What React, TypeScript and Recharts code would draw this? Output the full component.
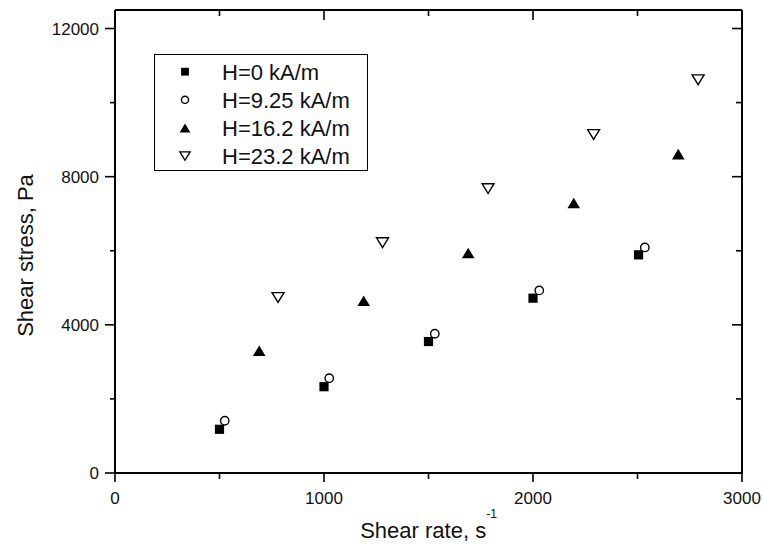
import React from "react";
import { Legend, Scatter, ScatterChart, XAxis, YAxis } from "recharts";

const FONT = "'Liberation Sans', Arial, Helvetica, sans-serif";

// shear rate (s^-1) / shear stress (Pa) per field strength
const rateH0 = [500, 1000, 1500, 2000, 2505];
const stressH0 = [1180, 2330, 3550, 4720, 5890];
const rateH925 = [525, 1025, 1530, 2030, 2535];
const stressH925 = [1410, 2560, 3760, 4930, 6090];
const rateH162 = [690, 1190, 1690, 2195, 2695];
const stressH162 = [3300, 4650, 5940, 7290, 8610];
const rateH232 = [780, 1280, 1785, 2290, 2790];
const stressH232 = [4740, 6220, 7680, 9140, 10620];

const seriesNames = ["H=0 kA/m", "H=9.25 kA/m", "H=16.2 kA/m", "H=23.2 kA/m"];
const xTicks = [0, 500, 1000, 1500, 2000, 2500, 3000];
const yTicks = [0, 2000, 4000, 6000, 8000, 10000, 12000];

type Kind = "square" | "circle" | "triangle" | "down";

const toPoints = (xs: number[], ys: number[]) => xs.map((x, i) => ({ x, y: ys[i] }));

const series: { name: string; kind: Kind; data: { x: number; y: number }[] }[] = [
  { name: seriesNames[0], kind: "square", data: toPoints(rateH0, stressH0) },
  { name: seriesNames[1], kind: "circle", data: toPoints(rateH925, stressH925) },
  { name: seriesNames[2], kind: "triangle", data: toPoints(rateH162, stressH162) },
  { name: seriesNames[3], kind: "down", data: toPoints(rateH232, stressH232) },
];

function Marker({ kind, cx, cy, s = 1 }: { kind: Kind; cx: number; cy: number; s?: number }) {
  if (kind === "square") {
    return <rect x={cx - 4.6 * s} y={cy - 4.6 * s} width={9.2 * s} height={9.2 * s} fill="#000" />;
  }
  if (kind === "circle") {
    return <circle cx={cx} cy={cy} r={4.2 * s} fill="#fff" stroke="#000" strokeWidth={1.4} />;
  }
  if (kind === "triangle") {
    const pts = `${cx - 6.3 * s},${cy + 5.3 * s} ${cx + 6.3 * s},${cy + 5.3 * s} ${cx},${cy - 5.3 * s}`;
    return <polygon points={pts} fill="#000" />;
  }
  const pts = `${cx - 6 * s},${cy - 4.8 * s} ${cx + 6 * s},${cy - 4.8 * s} ${cx},${cy + 5 * s}`;
  return <polygon points={pts} fill="#fff" stroke="#000" strokeWidth={1.4} strokeLinejoin="miter" />;
}

function BottomTick({ x, y, payload }: any) {
  const major = payload.value % 1000 === 0;
  return (
    <g>
      <line x1={x} y1={y} x2={x} y2={y + (major ? 9 : 6)} stroke="#000" strokeWidth={1.6} />
      {major && (
        <text x={x} y={y + 31} textAnchor="middle" fontSize={17} fontFamily={FONT} fill="#111">
          {payload.value}
        </text>
      )}
    </g>
  );
}

function TopTick({ x, y, payload }: any) {
  const major = payload.value % 1000 === 0;
  return <line x1={x} y1={y} x2={x} y2={y + (major ? 10 : 6)} stroke="#000" strokeWidth={1.6} />;
}

function LeftTick({ x, y, payload }: any) {
  const major = payload.value % 4000 === 0;
  return (
    <g>
      <line x1={x - (major ? 10 : 5)} y1={y} x2={x} y2={y} stroke="#000" strokeWidth={1.6} />
      {major && (
        <text x={x - 16} y={y + 6} textAnchor="end" fontSize={17} fontFamily={FONT} fill="#111">
          {payload.value}
        </text>
      )}
    </g>
  );
}

function RightTick({ x, y, payload }: any) {
  const major = payload.value % 4000 === 0;
  return <line x1={x - (major ? 10 : 6)} y1={y} x2={x} y2={y} stroke="#000" strokeWidth={1.6} />;
}

function XTitle(props: any) {
  const vb = props.viewBox;
  return (
    <text x={vb.x + vb.width / 2} y={vb.y + 65} textAnchor="middle" fontSize={22} fontFamily={FONT} fill="#111">
      Shear rate, s
      <tspan fontSize={12} dy={-20}>-1</tspan>
    </text>
  );
}

function YTitle(props: any) {
  const vb = props.viewBox;
  const cx = vb.x + 33;
  const cy = vb.y + vb.height / 2 + 14;
  return (
    <text
      x={cx}
      y={cy}
      transform={`rotate(-90, ${cx}, ${cy})`}
      textAnchor="middle"
      fontSize={22}
      fontFamily={FONT}
      fill="#111"
    >
      Shear stress, Pa
    </text>
  );
}

function LegendBox() {
  return (
    <svg width={214} height={117} style={{ display: "block" }}>
      <rect x={0.5} y={0.5} width={213} height={116} fill="#fff" stroke="#000" strokeWidth={1} />
      {series.map((s, i) => {
        const cy = 17.7 + i * 28.1;
        return (
          <g key={s.name}>
            <Marker kind={s.kind} cx={31} cy={cy} s={0.85} />
            <text x={68} y={cy + 8} fontSize={22} fontFamily={FONT} fill="#111">
              {s.name}
            </text>
          </g>
        );
      })}
    </svg>
  );
}

export default function App() {
  const axisLine = { stroke: "#000", strokeWidth: 2 };
  return (
    <div style={{ position: "absolute", left: 0, top: 0, width: 763, height: 551, background: "#fff" }}>
      <ScatterChart width={763} height={551} margin={{ top: 9, right: 20, bottom: 0, left: 0 }}>
        <XAxis
          xAxisId="bottom"
          type="number"
          dataKey="x"
          domain={[0, 3000]}
          allowDataOverflow
          ticks={xTicks}
          interval={0}
          height={78}
          tickSize={0}
          tickMargin={0}
          tickLine={false}
          axisLine={axisLine}
          tick={BottomTick}
          label={XTitle}
        />
        <XAxis
          xAxisId="top"
          orientation="top"
          type="number"
          dataKey="x"
          domain={[0, 3000]}
          allowDataOverflow
          ticks={xTicks}
          interval={0}
          height={1}
          tickSize={0}
          tickMargin={0}
          tickLine={false}
          axisLine={axisLine}
          tick={TopTick}
        />
        <YAxis
          yAxisId="left"
          type="number"
          dataKey="y"
          domain={[0, 12500]}
          allowDataOverflow
          ticks={yTicks}
          interval={0}
          width={115}
          tickSize={0}
          tickMargin={0}
          tickLine={false}
          axisLine={axisLine}
          tick={LeftTick}
          label={YTitle}
        />
        <YAxis
          yAxisId="right"
          orientation="right"
          type="number"
          dataKey="y"
          domain={[0, 12500]}
          allowDataOverflow
          ticks={yTicks}
          interval={0}
          width={1}
          tickSize={0}
          tickMargin={0}
          tickLine={false}
          axisLine={axisLine}
          tick={RightTick}
        />
        {series.map((s) => (
          <Scatter
            key={s.name}
            name={s.name}
            data={s.data}
            xAxisId="bottom"
            yAxisId="left"
            isAnimationActive={false}
            shape={(p: any) => <Marker kind={s.kind} cx={p.cx} cy={p.cy} />}
          />
        ))}
        <Legend
          layout="vertical"
          align="center"
          verticalAlign="middle"
          wrapperStyle={{ left: 154, top: 54, width: 214, height: 117 }}
          content={() => <LegendBox />}
        />
      </ScatterChart>
    </div>
  );
}
